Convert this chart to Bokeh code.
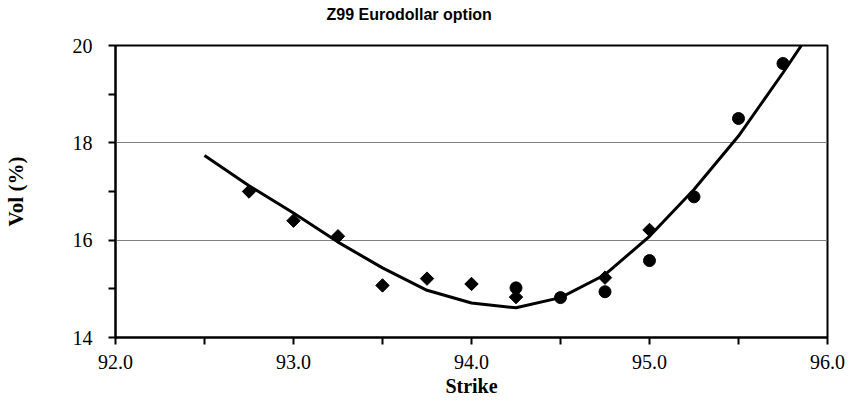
import math
from bokeh.plotting import figure
from bokeh.models import FixedTicker, NumeralTickFormatter, LinearAxis
from bokeh.embed import file_html
from bokeh.resources import INLINE

# Market vols (diamonds)
strike_a = [92.75, 93.0, 93.25, 93.5, 93.75, 94.0, 94.25, 94.75, 95.0]
vol_a = [17.0, 16.40, 16.08, 15.07, 15.21, 15.10, 14.83, 15.23, 16.21]

# Market vols (circles)
strike_b = [94.25, 94.5, 94.75, 95.0, 95.25, 95.5, 95.75]
vol_b = [15.02, 14.82, 14.94, 15.58, 16.89, 18.50, 19.63]

# Fitted smile (line)
strike_fit = [92.5, 92.75, 93.0, 93.25, 93.5, 93.75, 94.0, 94.25, 94.5,
              94.75, 95.0, 95.25, 95.5, 95.75, 96.0]
vol_fit = [17.74, 17.12, 16.56, 15.96, 15.43, 14.97, 14.71, 14.61, 14.82,
           15.29, 16.08, 17.04, 18.14, 19.44, 20.80]

x_major = [92, 93, 94, 95, 96]
x_minor = [92.5, 93.5, 94.5, 95.5]
y_major = [14, 16, 18, 20]
y_minor = [15, 17, 19]

title_text = "Z99 Eurodollar option"
title_pos = 93.65  # horizontal centre of the title (strike units)

p = figure(width=846, height=402, x_range=(92, 96), y_range=(14, 20),
           output_backend="svg", toolbar_location=None,
           min_border_left=114, min_border_right=19,
           min_border_top=45, min_border_bottom=65,
           background_fill_color="white", border_fill_color="white")

p.outline_line_color = "black"
p.outline_line_width = 2
p.outline_line_alpha = 1.0

p.xgrid.visible = False
p.ygrid.ticker = FixedTicker(ticks=y_major)
p.ygrid.grid_line_color = "#808080"
p.ygrid.grid_line_width = 1

for ax in (p.xaxis[0], p.yaxis[0]):
    ax.axis_line_width = 2
    ax.axis_line_color = "black"
    ax.major_tick_line_width = 2
    ax.minor_tick_line_width = 2
    ax.major_tick_line_color = "black"
    ax.minor_tick_line_color = "black"
    ax.major_tick_in = 0
    ax.major_tick_out = 7
    ax.minor_tick_in = 0
    ax.minor_tick_out = 7
    ax.major_label_text_font = "Liberation Serif"
    ax.major_label_text_font_size = "20px"
    ax.major_label_text_color = "black"
    ax.axis_label_text_font = "Liberation Serif"
    ax.axis_label_text_font_style = "bold"
    ax.axis_label_text_color = "black"

p.xaxis.ticker = FixedTicker(ticks=x_major, minor_ticks=x_minor)
p.xaxis.formatter = NumeralTickFormatter(format="0.0")
p.xaxis.axis_label = "Strike"
p.xaxis.axis_label_text_font_size = "20px"
p.xaxis.major_label_standoff = 10
p.xaxis.axis_label_standoff = 3

p.yaxis.ticker = FixedTicker(ticks=y_major, minor_ticks=y_minor)
p.yaxis.formatter = NumeralTickFormatter(format="0")
p.yaxis.axis_label = "Vol (%)"
p.yaxis.axis_label_text_font_size = "21px"
p.yaxis.major_label_standoff = 16
p.yaxis.axis_label_standoff = 42

# chart title drawn as the single label of an invisible top axis
title_axis = LinearAxis(ticker=FixedTicker(ticks=[title_pos]),
                        major_label_overrides={title_pos: title_text},
                        axis_line_alpha=0, major_tick_out=0, major_tick_in=0,
                        major_tick_line_alpha=0, minor_tick_out=0,
                        minor_tick_in=0, minor_tick_line_alpha=0,
                        major_label_standoff=23,
                        major_label_text_font="Liberation Sans",
                        major_label_text_font_style="bold",
                        major_label_text_font_size="16px",
                        major_label_text_color="black")
p.add_layout(title_axis, "above")

p.scatter(strike_a, vol_a, marker="square", size=9.5, angle=math.pi / 4,
          color="black")
p.scatter(strike_b, vol_b, marker="circle", size=12, color="black")
p.line(strike_fit, vol_fit, line_width=3, color="black")

open("out.html", "w").write(file_html(p, INLINE))
